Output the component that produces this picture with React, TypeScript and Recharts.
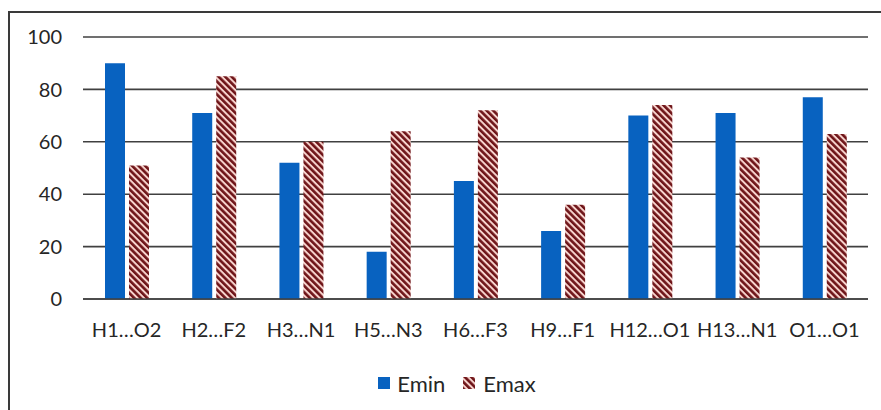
import React from 'react';
import { BarChart, Bar, XAxis, YAxis, CartesianGrid, Legend } from 'recharts';

const categories = ['H1…O2', 'H2…F2', 'H3…N1', 'H5…N3', 'H6…F3', 'H9…F1', 'H12…O1', 'H13…N1', 'O1…O1'];
const eminValues = [90, 71, 52, 18, 45, 26, 70, 71, 77];
const emaxValues = [51, 85, 60, 64, 72, 36, 74, 54, 63];
const yTicks = [0, 20, 40, 60, 80, 100];

const data = categories.map((name, i) => ({ name, Emin: eminValues[i], Emax: emaxValues[i] }));

const FONT = 'Lato, "Open Sans", sans-serif';
const BLUE = '#0862c0';

const LegendContent = () => (
  <div
    style={{
      display: 'flex',
      justifyContent: 'center',
      alignItems: 'center',
      fontFamily: FONT,
      fontSize: 22,
      color: '#262626',
      height: 26,
      paddingLeft: 34,
    }}
  >
    <span style={{ display: 'inline-block', width: 12, height: 12, background: BLUE, marginRight: 7 }} />
    <span style={{ marginRight: 18 }}>Emin</span>
    <svg width={12} height={12} style={{ marginRight: 8 }}>
      <rect width={12} height={12} fill="url(#emaxStripes)" />
    </svg>
    <span>Emax</span>
  </div>
);

export default function App() {
  return (
    <div
      style={{
        position: 'absolute',
        left: 8,
        top: 11,
        width: 880,
        height: 405,
        border: '2px solid #3a3a3a',
        background: '#fff',
      }}
    >
      <BarChart
        width={860}
        height={392}
        data={data}
        margin={{ top: 24, right: 2, left: 0, bottom: 40 }}
        barSize={20}
        barGap={4}
      >
        <defs>
          <pattern
            id="emaxStripes"
            width={4.6}
            height={4.6}
            patternUnits="userSpaceOnUse"
            patternTransform="rotate(-45)"
          >
            <rect width={4.6} height={4.6} fill="#f7d3cd" />
            <rect width={2.6} height={4.6} fill="#6e1418" />
          </pattern>
        </defs>
        <CartesianGrid vertical={false} stroke="#404040" strokeWidth={1.6} />
        <XAxis
          dataKey="name"
          axisLine={{ stroke: '#404040', strokeWidth: 1.6 }}
          tickLine={false}
          tickSize={0}
          tickMargin={24}
          height={40}
          interval={0}
          tick={{ fontFamily: FONT, fontSize: 20, fill: '#262626' }}
        />
        <YAxis
          domain={[0, 100]}
          ticks={yTicks}
          axisLine={false}
          tickLine={false}
          tickSize={0}
          tickMargin={21}
          width={73}
          tick={{ fontFamily: FONT, fontSize: 20, fill: '#262626' }}
        />
        <Legend
          verticalAlign="bottom"
          content={<LegendContent />}
          wrapperStyle={{ position: 'absolute', top: 357, left: 0, width: 860 }}
        />
        <Bar dataKey="Emin" fill={BLUE} isAnimationActive={false} />
        <Bar dataKey="Emax" fill="url(#emaxStripes)" isAnimationActive={false} />
      </BarChart>
    </div>
  );
}
